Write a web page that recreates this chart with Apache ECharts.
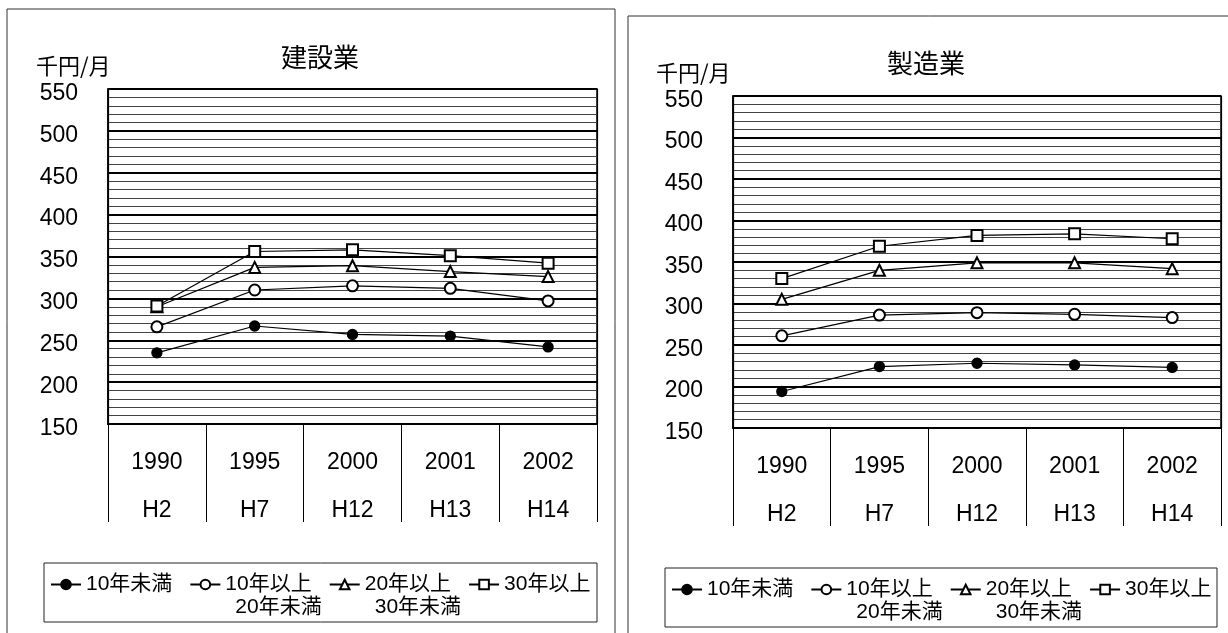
<!DOCTYPE html>
<html><head><meta charset="utf-8">
<script src="https://cdn.jsdelivr.net/npm/echarts@6/dist/echarts.min.js"></script>
<style>html,body{margin:0;padding:0;background:#fff}#c{width:1228px;height:633px}</style>
</head><body><div id="c"></div>
<script>
// ---- data ----
const years = ['1990', '1995', '2000', '2001', '2002'];
const eras = ['H2', 'H7', 'H12', 'H13', 'H14'];
const panelTitles = ['建設業', '製造業'];
const unitLabel = '千円/月';
const yMin = 150, yMax = 550, yStep = 50;
const seriesNames = ['10年未満', '10年以上20年未満', '20年以上30年未満', '30年以上'];
const legendLine1 = ['10年未満', '10年以上', '20年以上', '30年以上'];
const legendLine2 = ['', '20年未満', '30年未満', ''];

// 建設業
const kensetsuUnder10 = [235, 267, 257, 255, 242];
const kensetsu10to20 = [266, 310, 315, 312, 297];
const kensetsu20to30 = [290, 337, 339, 332, 326];
const kensetsuOver30 = [291, 356, 358, 351, 342];
// 製造業
const seizouUnder10 = [194, 224, 228, 226, 223];
const seizou10to20 = [261, 286, 289, 287, 283];
const seizou20to30 = [305, 340, 349, 349, 342];
const seizouOver30 = [330, 369, 382, 384, 378];

const panelData = [
  [kensetsuUnder10, kensetsu10to20, kensetsu20to30, kensetsuOver30],
  [seizouUnder10, seizou10to20, seizou20to30, seizouOver30]
];

// ---- layout / style ----
const NUM_FONT = "'Liberation Sans', Arial, sans-serif";
const JP_FONT = "'Liberation Sans', 'Noto Sans CJK JP', sans-serif";
const panels = [
  { grid: { left: 108, top: 89, width: 489, height: 335 }, frame: [7, 9, 608, 640],
    titleX: 320, titleY: 57, unitX: 36, unitY: 66, legendLeft: 50, legendTop: 574,
    box: [44, 563, 553, 59] },
  { grid: { left: 733, top: 96, width: 488, height: 332 }, frame: [628, 16, 640, 640],
    titleX: 926, titleY: 63, unitX: 656, unitY: 73, legendLeft: 671, legendTop: 579,
    box: [665, 568, 552, 59] }
];
const symbols = ['circle', 'emptyCircle', 'emptyTriangle', 'emptyRect'];
const symbolSizes = [10, 11, 11, 11];

const option = {
  animation: false,
  backgroundColor: '#fff',
  grid: panels.map(p => Object.assign({ show: true, borderColor: '#000', borderWidth: 1.5, backgroundColor: 'transparent' }, p.grid)),
  xAxis: panels.map((p, gi) => ({
    type: 'category', gridIndex: gi, data: years, boundaryGap: true,
    axisLine: { lineStyle: { color: '#000', width: 2 } },
    axisTick: { show: true, interval: 0, length: 98, lineStyle: { color: '#000', width: 1 } },
    axisLabel: {
      interval: 0, margin: 15, color: '#000',
      formatter: (v, i) => '{y|' + v + '}\n{h|' + eras[i] + '}',
      rich: {
        y: { fontSize: 23, fontFamily: NUM_FONT, lineHeight: 48, color: '#000' },
        h: { fontSize: 23, fontFamily: NUM_FONT, lineHeight: 48, color: '#000' }
      }
    },
    splitLine: { show: true, interval: (i) => i === 3, lineStyle: { color: '#000', width: 1.2 } }
  })),
  yAxis: panels.map((p, gi) => ({
    type: 'value', gridIndex: gi, min: yMin, max: yMax, interval: yStep,
    axisLine: { show: true, lineStyle: { color: '#000', width: 1.5 } },
    axisTick: { show: false },
    axisLabel: {
      color: '#000', margin: 30,
      formatter: (v) => '{n|' + v + '}',
      rich: { n: { fontSize: 23, fontFamily: NUM_FONT, color: '#000', padding: [9, 0, 0, 0] } }
    },
    splitLine: { show: true, lineStyle: { color: '#000', width: 2 } },
    minorTick: { show: false, splitNumber: 5 },
    minorSplitLine: { show: true, lineStyle: { color: '#444', width: 1 } }
  })),
  legend: panels.map((p) => ({
    left: p.legendLeft, top: p.legendTop, padding: 0, orient: 'horizontal',
    itemWidth: 30, itemHeight: 12, itemGap: 17,
    data: seriesNames,
    formatter: (name) => legendLine1[seriesNames.indexOf(name)],
    textStyle: { fontSize: 21, fontFamily: JP_FONT, color: '#000' }
  })),
  series: [],
  graphic: []
};

panels.forEach((p, gi) => {
  seriesNames.forEach((name, si) => {
    option.series.push({
      type: 'line', name: name, xAxisIndex: gi, yAxisIndex: gi,
      data: panelData[gi][si],
      symbol: symbols[si], symbolSize: symbolSizes[si], showAllSymbol: true,
      lineStyle: { color: '#000', width: 1.2 },
      itemStyle: { color: '#000', borderColor: '#000', borderWidth: 1.3 },
      emphasis: { disabled: true }
    });
  });
  option.graphic.push({ type: 'rect', silent: true, shape: { x: p.frame[0], y: p.frame[1], width: p.frame[2], height: p.frame[3] },
    style: { fill: 'none', stroke: '#333', lineWidth: 1 } });
  option.graphic.push({ type: 'rect', silent: true, shape: { x: p.box[0], y: p.box[1], width: p.box[2], height: p.box[3] },
    style: { fill: 'none', stroke: '#222', lineWidth: 1 } });
  option.graphic.push({ type: 'text', silent: true, style: { text: panelTitles[gi], x: p.titleX, y: p.titleY,
    textAlign: 'center', textVerticalAlign: 'middle', font: "26px 'Noto Sans CJK JP', sans-serif", fill: '#000' } });
  option.graphic.push({ type: 'text', silent: true, style: { text: unitLabel, x: p.unitX, y: p.unitY,
    textAlign: 'left', textVerticalAlign: 'middle', font: "22px 'Noto Sans CJK JP', sans-serif", fill: '#000' } });
});

const chart = echarts.init(document.getElementById('c'), null, { renderer: 'canvas' });
chart.setOption(option);

// second-line legend texts, placed under the corresponding legend item text
function placeSecondLines() {
  const extra = [];
  panels.forEach((p, gi) => {
    const legendView = chart._componentsViews.find(v => v.__model && v.__model.mainType === 'legend' && v.__model.componentIndex === gi);
    let xs = [];
    if (legendView && legendView.getContentGroup) {
      legendView.getContentGroup().children().forEach(ch => {
        const rect = ch.getBoundingRect();
        xs.push(p.legendLeft + ch.x + rect.x + 35 + 12);
      });
    }
    legendLine2.forEach((t, si) => {
      if (!t) return;
      const x = xs[si] !== undefined ? xs[si] : p.legendLeft + si * 140 + 47;
      extra.push({ type: 'text', silent: true, style: { text: t, x: x, y: p.legendTop + 33,
        textAlign: 'left', textVerticalAlign: 'middle', font: "21px 'Liberation Sans', 'Noto Sans CJK JP', sans-serif", fill: '#000' } });
    });
  });
  chart.setOption({ graphic: option.graphic.concat(extra) });
}
placeSecondLines();
</script>
</body></html>
